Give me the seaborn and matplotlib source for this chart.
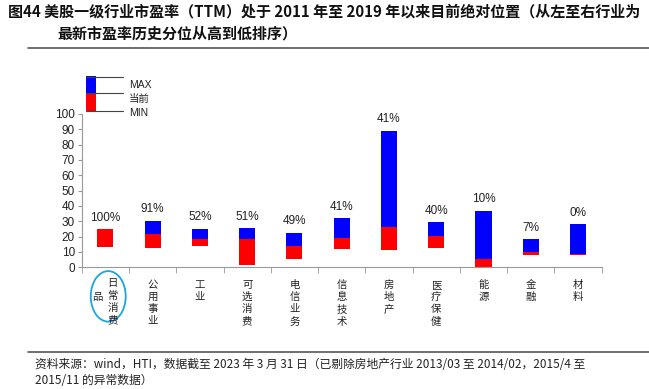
import numpy as np
import pandas as pd
import seaborn as sns
import matplotlib.pyplot as plt
from matplotlib.patches import Rectangle, Ellipse
from matplotlib.lines import Line2D

sectors = ["日常消费品", "公用事业", "工业", "可选消费", "电信业务", "信息技术",
           "房地产", "医疗保健", "能源", "金融", "材料"]
pe_max = [24.8, 30.4, 25.0, 25.4, 22.6, 32.0, 89.1, 29.3, 36.7, 18.3, 28.0]
pe_now = [24.8, 21.5, 18.5, 18.7, 14.1, 19.3, 26.5, 20.6, 5.2, 10.0, 8.4]
pe_min = [13.0, 12.6, 14.0, 1.5, 5.4, 11.9, 11.3, 12.6, 0.4, 8.2, 8.2]
pct = ["100%", "91%", "52%", "51%", "49%", "41%", "41%", "40%", "10%", "7%", "0%"]

df = pd.DataFrame({"sector": sectors, "max": pe_max, "now": pe_now, "min": pe_min})

sns.set_style("white")
cjk = ["Noto Sans CJK SC", "DejaVu Sans"]
plt.rcParams["font.family"] = ["Liberation Sans", "Noto Sans CJK SC", "DejaVu Sans"]

fig = plt.figure(figsize=(6.49, 3.89), dpi=100)
ax = fig.add_axes([0.126, 0.313, 0.801, 0.394])

# layered bars: blue up to max, red up to current, white below min
sns.barplot(data=df, x="sector", y="max", color="#0000FF", saturation=1,
            width=0.34, linewidth=0, ax=ax)
sns.barplot(data=df, x="sector", y="now", color="#FF0000", saturation=1,
            width=0.34, linewidth=0, ax=ax)
sns.barplot(data=df, x="sector", y="min", color="white", saturation=1,
            width=0.34, linewidth=0, ax=ax)

for i, (h, t) in enumerate(zip(pe_max, pct)):
    ax.annotate(t, (i, h), xytext=(0, 4), textcoords="offset points",
                ha="center", va="bottom", fontsize=8.5, color="#222222")

ax.set_xlim(-0.5, len(sectors) - 0.5)
ax.set_ylim(0, 100)
ax.set_yticks(range(0, 101, 10))
ax.set_xlabel("")
ax.set_ylabel("")
for s in ["top", "right"]:
    ax.spines[s].set_visible(False)
for s in ["left", "bottom"]:
    ax.spines[s].set_color("#999999")
    ax.spines[s].set_linewidth(0.8)
ax.tick_params(axis="y", left=True, length=3, color="#999999", labelsize=8.5,
               pad=2, labelcolor="#222222")
ax.set_xticks(np.arange(-0.5, len(sectors)), minor=True)
ax.tick_params(axis="x", which="minor", bottom=True, length=4, color="#999999")
ax.tick_params(axis="x", which="major", bottom=False, length=0)
ax.set_xticks(range(len(sectors)))
labels = ["\n".join(s) for s in sectors]
labels[0] = ""
ax.set_xticklabels(labels, fontsize=7.5, family=cjk, va="top", linespacing=1.28,
                   color="#222222")
ax.tick_params(axis="x", pad=9)

# first label wraps into two columns
ax.text(0.15, -0.072, "日\n常\n消\n费", transform=ax.get_xaxis_transform(),
        ha="center", va="top", fontsize=7.5, family=cjk, linespacing=1.28,
        color="#222222")
ax.text(-0.18, -0.16, "品", transform=ax.get_xaxis_transform(),
        ha="center", va="top", fontsize=7.5, family=cjk, color="#222222")
ax.add_patch(Ellipse((0.06, -0.19), 0.74, 0.33, transform=ax.get_xaxis_transform(),
                     fill=False, edgecolor="#1BA6E0", linewidth=1.3, clip_on=False))


def px(x, y):
    return x / 649, 1 - y / 389


# legend drawn as a small stacked bar with leader lines
fig.patches.append(Rectangle(px(85.7, 93), 10 / 649, 17 / 389, transform=fig.transFigure,
                             color="#0000FF", lw=0))
fig.patches.append(Rectangle(px(85.7, 111), 10 / 649, 18 / 389, transform=fig.transFigure,
                             color="#FF0000", lw=0))
for yy in [76.7, 93, 110.7]:
    x0, y0 = px(85.7, yy)
    x1, _ = px(122.7, yy)
    fig.add_artist(Line2D([x0, x1], [y0, y0], color="#444444", lw=0.8))
for yy, t in [(85, "MAX"), (99.3, "当前"), (113.3, "MIN")]:
    fig.text(*px(129, yy), t, ha="left", va="center", fontsize=7.5, color="#222222")

fig.text(*px(8, 12), "图44 美股一级行业市盈率（TTM）处于 2011 年至 2019 年以来目前绝对位置（从左至右行业为",
         ha="left", va="center", fontsize=10.8, fontweight="bold", family=cjk, color="#111111")
fig.text(*px(57, 33), "最新市盈率历史分位从高到低排序）",
         ha="left", va="center", fontsize=10.8, fontweight="bold", family=cjk, color="#111111")
fig.add_artist(Line2D([28 / 649, 1], [1 - 48 / 389] * 2, color="#555555", lw=1.2))
fig.add_artist(Line2D([28 / 649, 1], [1 - 352 / 389] * 2, color="#555555", lw=1.2))
fig.text(*px(35, 364), "资料来源：wind，HTI，数据截至 2023 年 3 月 31 日（已剔除房地产行业 2013/03 至 2014/02，2015/4 至",
         ha="left", va="center", fontsize=8.5, family=cjk, color="#222222")
fig.text(*px(35, 380), "2015/11 的异常数据）",
         ha="left", va="center", fontsize=8.5, family=cjk, color="#222222")

fig.savefig("out.png", dpi=100)
